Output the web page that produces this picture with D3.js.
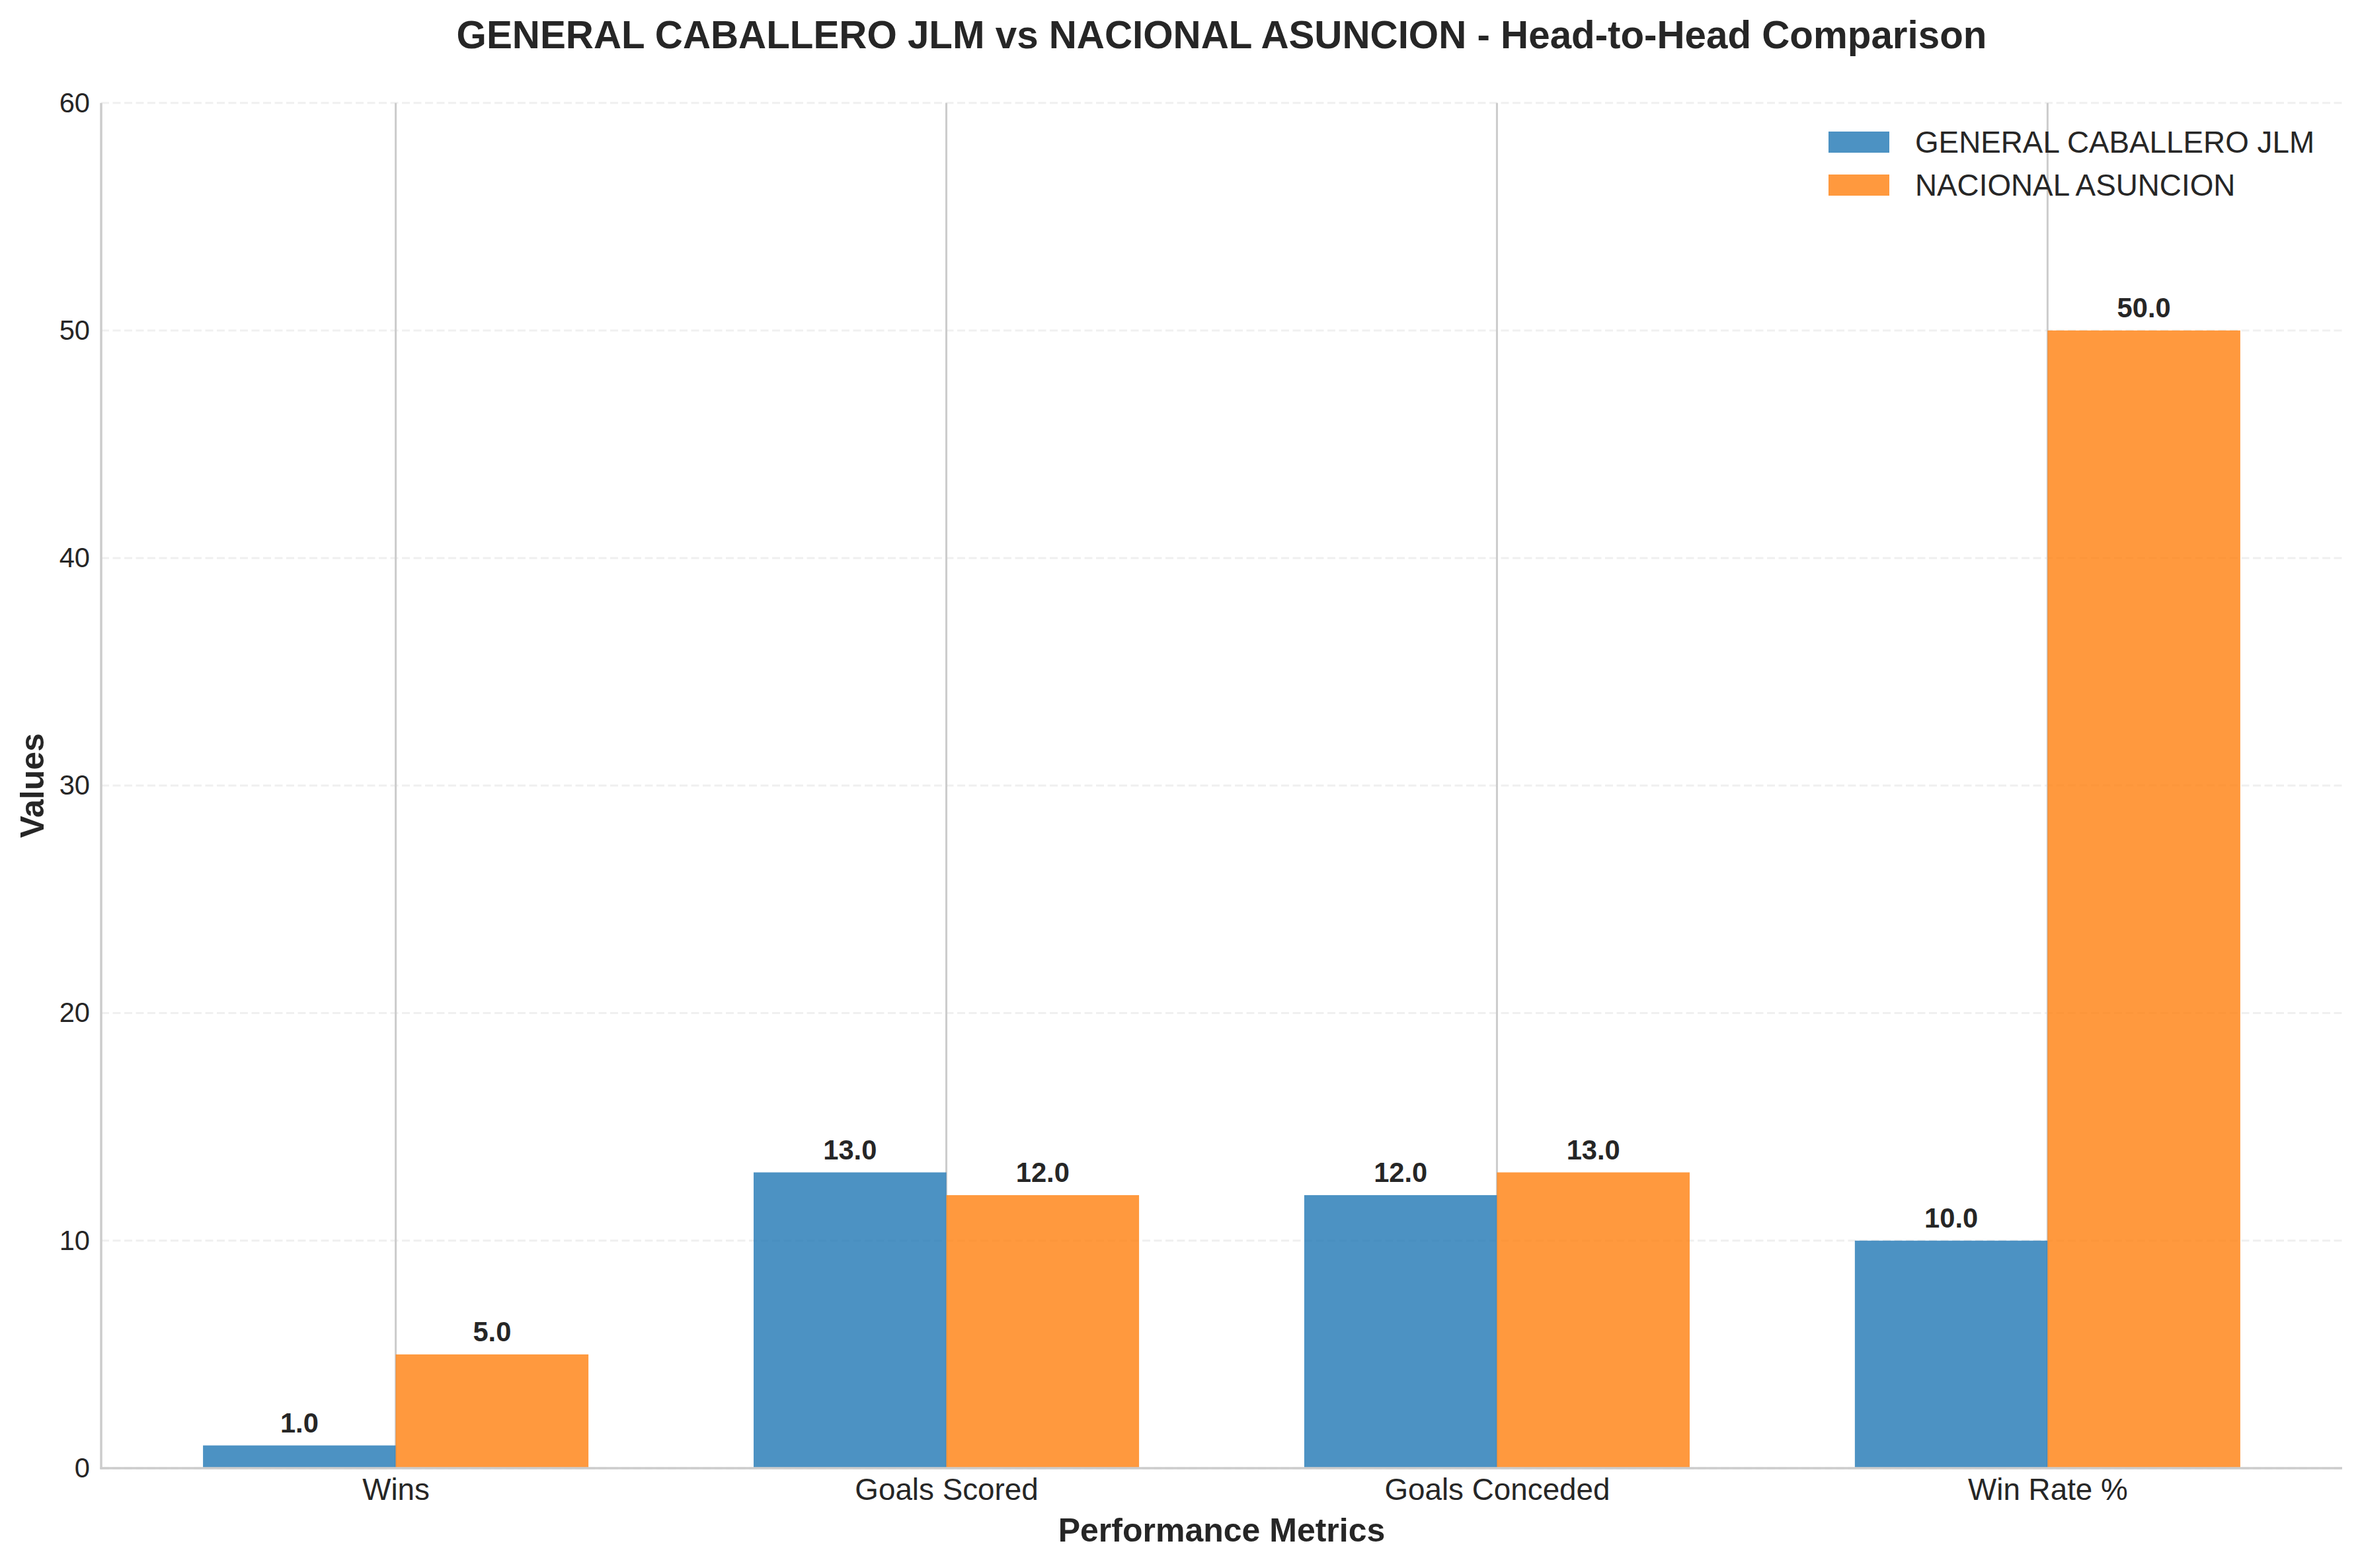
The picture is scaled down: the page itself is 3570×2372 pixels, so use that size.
<!DOCTYPE html>
<html>
<head>
<meta charset="utf-8">
<script src="https://d3js.org/d3.v7.min.js"></script>
<style>
  body { margin: 0; background: #fff; }
  text { font-family: "Liberation Sans", Arial, sans-serif; fill: #262626; }
</style>
</head>
<body>
<div id="vis"></div>
<script>
const metrics = ["Wins", "Goals Scored", "Goals Conceded", "Win Rate %"];
const teams = ["GENERAL CABALLERO JLM", "NACIONAL ASUNCION"];
const caballeroValues = [1, 13, 12, 10];
const nacionalValues = [5, 12, 13, 50];
const yTicks = [0, 10, 20, 30, 40, 50, 60];
const colors = ["#1f77b4", "#ff7f0e"];

const W = 3570, H = 2372;
const margin = {left: 153, right: 27, top: 155.7, bottom: 151};
const barW = 0.35;

const svg = d3.select("#vis").append("svg")
  .attr("width", W)
  .attr("height", H);

const x = d3.scaleLinear()
  .domain([-0.535, metrics.length - 1 + 0.535])
  .range([margin.left, W - margin.right]);
const y = d3.scaleLinear()
  .domain([0, 60])
  .range([H - margin.bottom, margin.top]);

// grid: vertical solid at categories, horizontal dashed
svg.append("g").selectAll("line")
  .data(metrics)
  .join("line")
  .attr("x1", (d, i) => x(i)).attr("x2", (d, i) => x(i))
  .attr("y1", y(60)).attr("y2", y(0))
  .attr("stroke", "#cccccc")
  .attr("stroke-width", 3);

svg.append("g").selectAll("line")
  .data(yTicks)
  .join("line")
  .attr("x1", x.range()[0]).attr("x2", x.range()[1])
  .attr("y1", d => y(d)).attr("y2", d => y(d))
  .attr("stroke", "#cccccc")
  .attr("stroke-opacity", 0.3)
  .attr("stroke-width", 3)
  .attr("stroke-dasharray", "12,5.5");

// bars
const series = [caballeroValues, nacionalValues];
series.forEach((vals, s) => {
  const off = s === 0 ? -barW / 2 : barW / 2;
  const g = svg.append("g");
  g.selectAll("rect")
    .data(vals)
    .join("rect")
    .attr("x", (d, i) => x(i + off - barW / 2))
    .attr("width", x(barW) - x(0))
    .attr("y", d => y(d))
    .attr("height", d => y(0) - y(d))
    .attr("fill", colors[s])
    .attr("fill-opacity", 0.8);

  g.selectAll("text")
    .data(vals)
    .join("text")
    .attr("x", (d, i) => x(i + off))
    .attr("y", d => y(d) - 20)
    .attr("text-anchor", "middle")
    .attr("font-size", 41.7)
    .attr("font-weight", "bold")
    .text(d => d.toFixed(1));
});

// spines
svg.append("line")
  .attr("x1", x.range()[0]).attr("x2", x.range()[0])
  .attr("y1", y(60)).attr("y2", y(0) + 1.5)
  .attr("stroke", "#cccccc").attr("stroke-width", 3.5);
svg.append("line")
  .attr("x1", x.range()[0] - 1.5).attr("x2", x.range()[1])
  .attr("y1", y(0)).attr("y2", y(0))
  .attr("stroke", "#cccccc").attr("stroke-width", 3.5);

// y axis
const yAxis = svg.append("g")
  .attr("transform", `translate(${x.range()[0]},0)`)
  .call(d3.axisLeft(y).tickValues(yTicks).tickSize(0).tickPadding(17));
yAxis.select(".domain").remove();
yAxis.selectAll("text")
  .attr("font-size", 41.7)
  .attr("font-family", "Liberation Sans, Arial, sans-serif")
  .attr("fill", "#262626");

// x axis
const xAxis = svg.append("g")
  .attr("transform", `translate(0,${y(0)})`)
  .call(d3.axisBottom(x)
    .tickValues(d3.range(metrics.length))
    .tickFormat(i => metrics[i])
    .tickSize(0).tickPadding(15));
xAxis.select(".domain").remove();
xAxis.selectAll("text")
  .attr("font-size", 45.8)
  .attr("font-family", "Liberation Sans, Arial, sans-serif")
  .attr("fill", "#262626");

// labels
svg.append("text")
  .attr("x", (x.range()[0] + x.range()[1]) / 2)
  .attr("y", 73)
  .attr("text-anchor", "middle")
  .attr("font-size", 58.3)
  .attr("font-weight", "bold")
  .text("GENERAL CABALLERO JLM vs NACIONAL ASUNCION - Head-to-Head Comparison");

svg.append("text")
  .attr("x", (x.range()[0] + x.range()[1]) / 2)
  .attr("y", 2332)
  .attr("text-anchor", "middle")
  .attr("font-size", 50)
  .attr("font-weight", "bold")
  .text("Performance Metrics");

svg.append("text")
  .attr("transform", `translate(66,${(y(0) + y(60)) / 2}) rotate(-90)`)
  .attr("text-anchor", "middle")
  .attr("font-size", 50)
  .attr("font-weight", "bold")
  .text("Values");

// legend
const legend = svg.append("g").attr("transform", "translate(2766,199)");
teams.forEach((t, i) => {
  legend.append("rect")
    .attr("x", 0).attr("y", i * 65)
    .attr("width", 92).attr("height", 32)
    .attr("fill", colors[i]).attr("fill-opacity", 0.8);
  legend.append("text")
    .attr("x", 131).attr("y", i * 65 + 32)
    .attr("font-size", 45.8)
    .text(t);
});
</script>
</body>
</html>
